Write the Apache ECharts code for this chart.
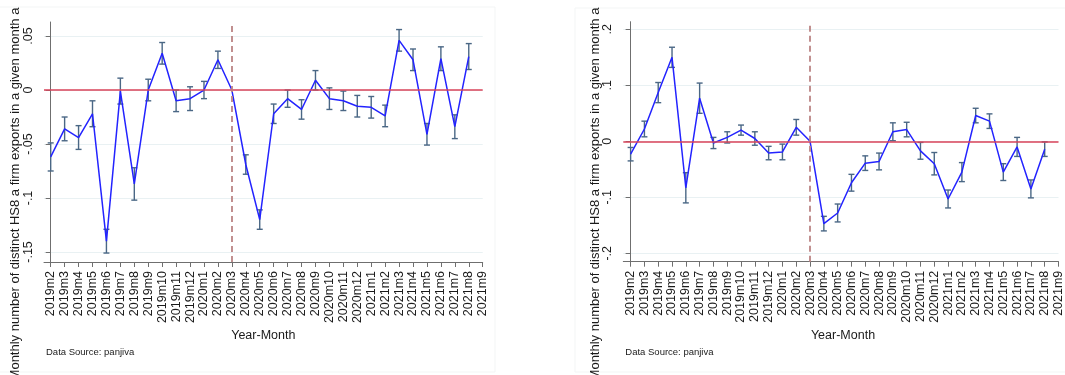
<!DOCTYPE html>
<html>
<head>
<meta charset="utf-8">
<script src="https://cdn.jsdelivr.net/npm/echarts@6/dist/echarts.min.js"></script>
<style>
  html, body { margin: 0; padding: 0; background: #ffffff; }
  #chart { width: 1065px; height: 375px; }
</style>
</head>
<body>
<div id="chart"></div>
<script>
// Month labels on the x axis (event study, reference month 2020m3)
const months = [
  '2019m2','2019m3','2019m4','2019m5','2019m6','2019m7','2019m8','2019m9','2019m10','2019m11','2019m12',
  '2020m1','2020m2','2020m3','2020m4','2020m5','2020m6','2020m7','2020m8','2020m9','2020m10','2020m11','2020m12',
  '2021m1','2021m2','2021m3','2021m4','2021m5','2021m6','2021m7','2021m8','2021m9'
];
const eventMonth = '2020m3';

// Left panel: point estimates and half-width of the confidence interval
const leftEstimates = [
  -0.062, -0.036, -0.044, -0.022, -0.140, -0.001, -0.087, 0.000, 0.034, -0.010, -0.008,
  0.000, 0.028, 0.000, -0.069, -0.120, -0.022, -0.008, -0.018, 0.009, -0.008, -0.010, -0.015,
  -0.016, -0.024, 0.046, 0.028, -0.041, 0.029, -0.034, 0.031
];
const leftHalfCI = [
  0.013, 0.011, 0.011, 0.012, 0.011, 0.012, 0.015, 0.010, 0.010, 0.010, 0.011,
  0.008, 0.008, null, 0.009, 0.009, 0.009, 0.008, 0.009, 0.009, 0.010, 0.009, 0.010,
  0.010, 0.010, 0.010, 0.010, 0.010, 0.011, 0.011, 0.012
];
const leftYTicks = [-0.15, -0.1, -0.05, 0, 0.05];
const leftYLabels = ['-.15', '-.1', '-.05', '0', '.05'];

// Right panel
const rightEstimates = [
  -0.023, 0.022, 0.087, 0.150, -0.083, 0.077, -0.003, 0.007, 0.020, 0.005, -0.021,
  -0.019, 0.025, 0.000, -0.147, -0.128, -0.074, -0.039, -0.036, 0.017, 0.021, -0.017, -0.040,
  -0.103, -0.055, 0.046, 0.036, -0.055, -0.010, -0.085, -0.014
];
const rightHalfCI = [
  0.012, 0.014, 0.018, 0.018, 0.027, 0.027, 0.010, 0.010, 0.009, 0.012, 0.012,
  0.014, 0.014, null, 0.013, 0.016, 0.015, 0.013, 0.015, 0.016, 0.013, 0.015, 0.020,
  0.016, 0.017, 0.013, 0.013, 0.015, 0.017, 0.016, 0.013
];
const rightYTicks = [-0.2, -0.1, 0, 0.1, 0.2];
const rightYLabels = ['-.2', '-.1', '0', '.1', '.2'];

const yTitle = 'Monthly number of distinct HS8 a firm exports in a given month a';
const xTitle = 'Year-Month';
const sourceNote = 'Data Source: panjiva';

const FONT = '"Liberation Sans", Arial, sans-serif';
const AXIS_COLOR = '#6f6f6f';
const LINE_COLOR = '#2323ff';
const CI_COLOR = '#4a6785';
const ZERO_COLOR = '#d9435a';
const EVENT_COLOR = '#bb8484';
const GRID_COLOR = '#e9f1f3';

const monthIdx = months.map((_, i) => i);
const eventIdx = months.indexOf(eventMonth);

function pointData(est) {
  return est.map((v, i) => [i, v]);
}
function ciData(est, half) {
  const out = [];
  est.forEach((v, i) => {
    if (half[i] != null) out.push([i, v - half[i], v + half[i]]);
  });
  return out;
}
function labelFor(ticks, labels) {
  return (v) => {
    const k = ticks.findIndex(t => Math.abs(t - v) < 1e-9);
    return k >= 0 ? labels[k] : '';
  };
}

function errorBar(params, api) {
  const x = api.value(0);
  const lo = api.coord([x, api.value(1)]);
  const hi = api.coord([x, api.value(2)]);
  const w = 3;
  const style = { stroke: CI_COLOR, lineWidth: 1.4, fill: null };
  return {
    type: 'group',
    children: [
      { type: 'line', shape: { x1: lo[0], y1: lo[1], x2: hi[0], y2: hi[1] }, style },
      { type: 'line', shape: { x1: lo[0] - w, y1: lo[1], x2: lo[0] + w, y2: lo[1] }, style },
      { type: 'line', shape: { x1: hi[0] - w, y1: hi[1], x2: hi[0] + w, y2: hi[1] }, style }
    ]
  };
}

function xAxisFor(gridIndex, min) {
  return {
    type: 'value', gridIndex, min, max: months.length - 1,
    axisLine: { show: true, onZero: false, lineStyle: { color: AXIS_COLOR, width: 1 } },
    axisTick: { show: true, length: 5, customValues: monthIdx, lineStyle: { color: AXIS_COLOR } },
    axisLabel: {
      customValues: monthIdx, rotate: 90, margin: 9,
      fontFamily: FONT, fontSize: 12.5, color: '#1a1a1a',
      formatter: (v) => months[Math.round(v)] || ''
    },
    splitLine: { show: false }
  };
}
function yAxisFor(gridIndex, min, max, ticks, labels) {
  return {
    type: 'value', gridIndex, min, max,
    axisLine: { show: true, lineStyle: { color: AXIS_COLOR, width: 1 } },
    axisTick: { show: true, length: 5, customValues: ticks, lineStyle: { color: AXIS_COLOR } },
    axisLabel: {
      customValues: ticks, rotate: 90, margin: 9,
      fontFamily: FONT, fontSize: 12.5, color: '#1a1a1a',
      formatter: labelFor(ticks, labels)
    },
    splitLine: { show: true, lineStyle: { color: GRID_COLOR, width: 1.2 } }
  };
}

function panelSeries(axisIndex, est, half) {
  return [
    {
      type: 'custom', xAxisIndex: axisIndex, yAxisIndex: axisIndex,
      renderItem: errorBar, data: ciData(est, half), clip: false, z: 3,
      encode: { x: 0, y: [1, 2] },
      markLine: {
        silent: true, symbol: ['none', 'none'], label: { show: false }, animation: false,
        data: [
          { yAxis: 0, lineStyle: { color: ZERO_COLOR, width: 1.6, type: 'solid' } },
          { xAxis: eventIdx, lineStyle: { color: EVENT_COLOR, width: 1.8, type: [6, 4] } }
        ]
      }
    },
    {
      type: 'line', xAxisIndex: axisIndex, yAxisIndex: axisIndex,
      data: pointData(est), symbol: 'none', z: 4,
      lineStyle: { color: LINE_COLOR, width: 1.5 }
    }
  ];
}

function panelText(axisX, centerX, titleGap) {
  return [
    {
      type: 'text', x: axisX - titleGap, y: 194, rotation: Math.PI / 2,
      style: { text: yTitle, fontFamily: FONT, fontSize: 13, fill: '#1a1a1a', align: 'center', verticalAlign: 'middle' }
    },
    {
      type: 'text', x: centerX, y: 336,
      style: { text: xTitle, fontFamily: FONT, fontSize: 12.5, fill: '#1a1a1a', align: 'center', verticalAlign: 'middle' }
    },
    {
      type: 'text', x: axisX + 2, y: 352,
      style: { text: sourceNote, fontFamily: FONT, fontSize: 9.5, fill: '#1a1a1a', align: 'left', verticalAlign: 'middle' }
    }
  ];
}

const chart = echarts.init(document.getElementById('chart'), null, { renderer: 'canvas' });
chart.setOption({
  backgroundColor: '#ffffff',
  animation: false,
  grid: [
    { left: 44, top: 22, width: 438.7, height: 240 },
    { left: 623.3, top: 21.7, width: 439.4, height: 240 }
  ],
  xAxis: [xAxisFor(0, -0.48), xAxisFor(1, -0.53)],
  yAxis: [
    yAxisFor(0, -0.1593, 0.0630, leftYTicks, leftYLabels),
    yAxisFor(1, -0.215, 0.2136, rightYTicks, rightYLabels)
  ],
  series: [
    ...panelSeries(0, leftEstimates, leftHalfCI),
    ...panelSeries(1, rightEstimates, rightHalfCI)
  ],
  graphic: [
    { type: 'rect', shape: { x: -2, y: 7, width: 497, height: 365 }, style: { fill: null, stroke: '#f3f5f5', lineWidth: 1 }, z: -1 },
    { type: 'rect', shape: { x: 575, y: 8, width: 495, height: 364 }, style: { fill: null, stroke: '#f3f5f5', lineWidth: 1 }, z: -1 },
    ...panelText(44, 263.3, 29),
    ...panelText(623.3, 843, 28)
  ]
});
</script>
</body>
</html>
